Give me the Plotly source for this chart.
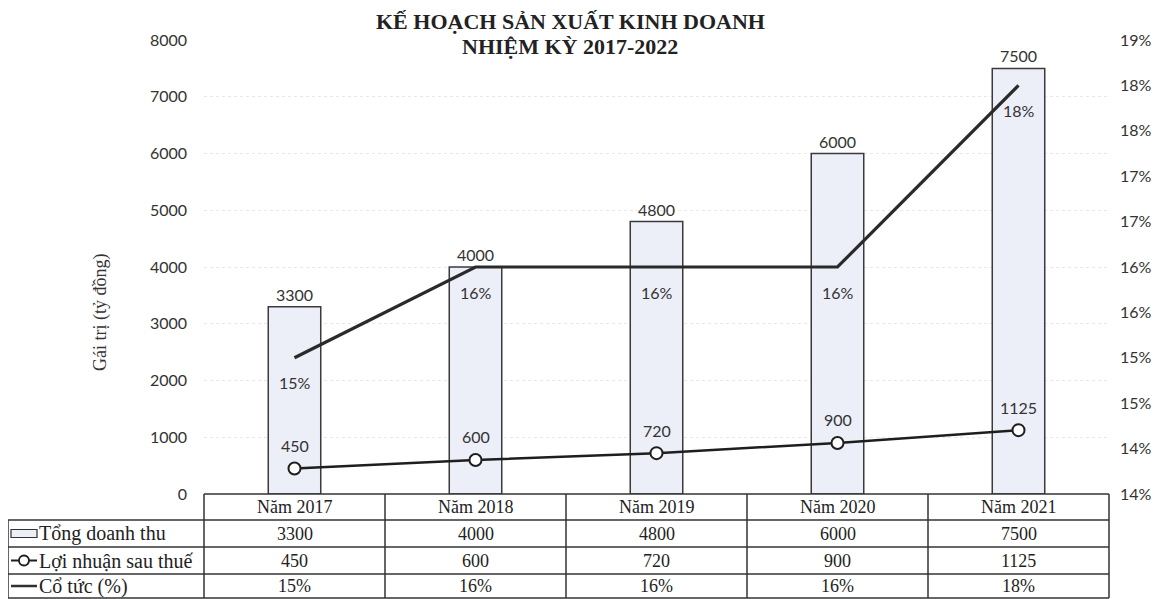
import plotly.graph_objects as go

# ---------------- data ----------------
years = ["Năm 2017", "Năm 2018", "Năm 2019", "Năm 2020", "Năm 2021"]
revenue = [3300, 4000, 4800, 6000, 7500]          # Tổng doanh thu (tỷ đồng)
profit = [450, 600, 720, 900, 1125]               # Lợi nhuận sau thuế (tỷ đồng)
dividend = [15, 16, 16, 16, 18]                   # Cổ tức (%)
series_names = ["Tổng doanh thu", "Lợi nhuận sau thuế", "Cổ tức (%)"]
y_tickvals = [0, 1000, 2000, 3000, 4000, 5000, 6000, 7000, 8000]
y2_tickvals = [13.5, 14, 14.5, 15, 15.5, 16, 16.5, 17, 17.5, 18, 18.5]
y2_ticktext = ["14%", "14%", "15%", "15%", "16%", "16%", "17%", "17%", "18%", "18%", "19%"]
title_lines = ["KẾ HOẠCH SẢN XUẤT KINH DOANH", "NHIỆM KỲ 2017-2022"]
y_title = "Gái trị (tỷ đồng)"

# ---------------- layout geometry ----------------
# the page body has an 8px margin, so the figure is shrunk/shifted accordingly
OFF = 8
W, H = 1167 - OFF, 599 - OFF
ML, MT = 204 - OFF, 40 - OFF
PW, PH = 905, 454
MR = W - ML - PW
MB = H - MT - PH

def px_x(px):  # reference-picture pixel -> paper x
    return (px - 204) / PW

def px_y(py):  # reference-picture pixel -> paper y
    return (494 - py) / PH

SANS = "Lato, 'Liberation Sans', sans-serif"
SERIF = "'Liberation Serif', 'Times New Roman', serif"

fig = go.Figure()

fig.add_trace(go.Bar(
    x=years, y=revenue, name=series_names[0], width=0.29,
    marker=dict(color="#eceef8", line=dict(color="#3a3a3a", width=1.5)),
    text=[str(v) for v in revenue], textposition="outside", constraintext="none",
    textfont=dict(family=SANS, size=16, color="#333333"), cliponaxis=False,
    showlegend=False,
))

fig.add_trace(go.Scatter(
    x=years, y=dividend, name=series_names[2], yaxis="y2", mode="lines",
    line=dict(color="#2a2a2a", width=3.2), showlegend=False,
))

fig.add_trace(go.Scatter(
    x=years, y=profit, name=series_names[1], mode="lines+markers",
    line=dict(color="#1e1e1e", width=2.5),
    marker=dict(symbol="circle", size=12, color="white", line=dict(color="#1e1e1e", width=2)),
    showlegend=False, cliponaxis=False,
))

annotations = []
# title (two lines)
for line_text, cy in zip(title_lines, [22, 46]):
    annotations.append(dict(x=px_x(570), y=px_y(cy), xref="paper", yref="paper",
                            text=line_text, showarrow=False, yanchor="middle", xanchor="center",
                            font=dict(family=SERIF, size=22, color="#222222", weight="bold")))
# line data labels
for yr, v in zip(years, profit):
    annotations.append(dict(x=yr, y=v, xref="x", yref="y", text=str(v), showarrow=False,
                            yshift=23, font=dict(family=SANS, size=16, color="#333333")))
for yr, v in zip(years, dividend):
    annotations.append(dict(x=yr, y=v, xref="x", yref="y2", text=f"{v}%", showarrow=False,
                            yshift=-25, font=dict(family=SANS, size=16, color="#333333")))

# y axis title
annotations.append(dict(x=px_x(100), y=px_y(313), xref="paper", yref="paper", text=y_title,
                        textangle=-90, showarrow=False, xanchor="center", yanchor="middle",
                        font=dict(family=SERIF, size=18, color="#333333")))

# ---------------- data table ----------------
n = len(years)
row_px = [494, 520, 547, 574, 598]   # row boundaries (reference pixels)
label_left = 8
shapes = []
line_style = dict(color="#333333", width=1.5)

shapes.append(dict(type="line", xref="paper", yref="paper", x0=0, x1=1,
                   y0=px_y(row_px[0]), y1=px_y(row_px[0]), line=line_style))
for r in row_px[1:]:
    shapes.append(dict(type="line", xref="paper", yref="paper", x0=px_x(label_left), x1=1,
                       y0=px_y(r), y1=px_y(r), line=line_style))
for i in range(n + 1):
    shapes.append(dict(type="line", xref="paper", yref="paper", x0=i / n, x1=i / n,
                       y0=px_y(row_px[0]), y1=px_y(row_px[-1]), line=line_style))
shapes.append(dict(type="line", xref="paper", yref="paper", x0=px_x(label_left), x1=px_x(label_left),
                   y0=px_y(row_px[1]), y1=px_y(row_px[-1]), line=line_style))

row_centers = [(row_px[k] + row_px[k + 1]) / 2 for k in range(4)]
table_rows = [[str(v) for v in revenue], [str(v) for v in profit], [f"{v}%" for v in dividend]]
for i, yr in enumerate(years):
    annotations.append(dict(x=yr, y=px_y(row_centers[0]), xref="x", yref="paper", text=yr,
                            showarrow=False, xanchor="center", yanchor="middle",
                            font=dict(family=SERIF, size=18, color="#222222")))
    for k, row in enumerate(table_rows):
        annotations.append(dict(x=yr, y=px_y(row_centers[k + 1]), xref="x", yref="paper",
                                text=row[i], showarrow=False, xanchor="center", yanchor="middle",
                                font=dict(family=SERIF, size=18, color="#222222")))

for k, name in enumerate(series_names):
    cy = row_centers[k + 1]
    annotations.append(dict(x=px_x(37), y=px_y(cy), xref="paper", yref="paper", text=name,
                            xanchor="left", yanchor="middle", showarrow=False,
                            font=dict(family=SERIF, size=20, color="#222222")))
cy = row_centers[1]
shapes.append(dict(type="rect", xref="paper", yref="paper", x0=px_x(11), x1=px_x(37),
                   y0=px_y(cy - 4), y1=px_y(cy + 4), fillcolor="#eceef8",
                   line=dict(color="#333333", width=1.2)))
cy = row_centers[2]
shapes.append(dict(type="line", xref="paper", yref="paper", x0=px_x(11), x1=px_x(37),
                   y0=px_y(cy), y1=px_y(cy), line=dict(color="#1e1e1e", width=2)))
shapes.append(dict(type="circle", xref="paper", yref="paper", x0=px_x(19), x1=px_x(29),
                   y0=px_y(cy - 5), y1=px_y(cy + 5), fillcolor="white",
                   line=dict(color="#1e1e1e", width=1.8)))
cy = row_centers[3]
shapes.append(dict(type="line", xref="paper", yref="paper", x0=px_x(11), x1=px_x(37),
                   y0=px_y(cy), y1=px_y(cy), line=dict(color="#303030", width=2.5)))

fig.update_layout(
    width=W, height=H, autosize=False,
    margin=dict(l=ML, r=MR, t=MT, b=MB),
    paper_bgcolor="white", plot_bgcolor="white",
    xaxis=dict(range=[-0.5, n - 0.5], showticklabels=False, showgrid=False, zeroline=False,
               showline=False, ticks=""),
    yaxis=dict(range=[0, 8000], tickvals=y_tickvals, showgrid=True, gridcolor="#e8e8e8",
               griddash="dot", zeroline=False, showline=False, ticks="", ticklabelstandoff=16,
               tickfont=dict(family=SANS, size=16, color="#333333")),
    yaxis2=dict(range=[13.5, 18.5], overlaying="y", side="right", tickvals=y2_tickvals,
                ticktext=y2_ticktext, showgrid=False, zeroline=False, showline=False, ticks="",
                ticklabelstandoff=10, tickfont=dict(family=SANS, size=16, color="#333333")),
    shapes=shapes, annotations=annotations,
)

fig.write_html("out.html")
